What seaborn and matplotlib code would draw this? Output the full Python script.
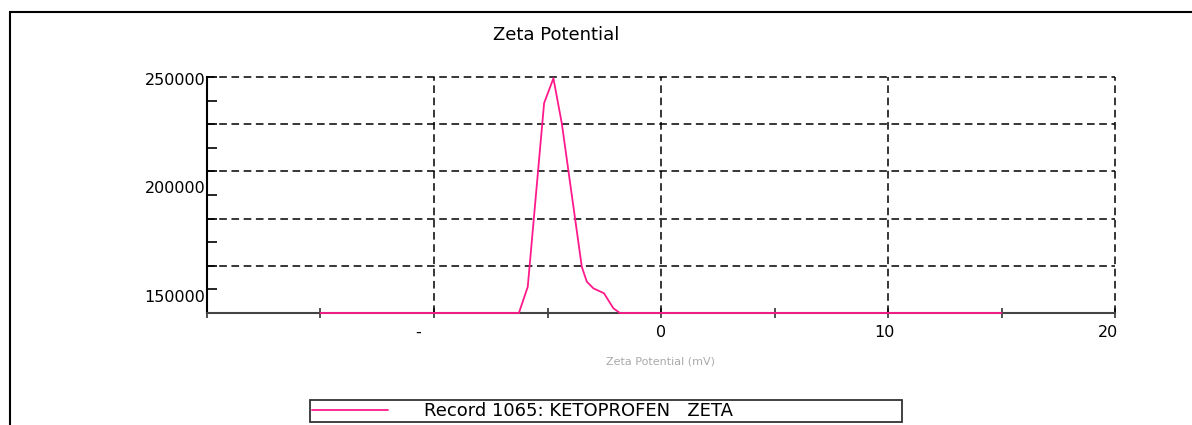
import numpy as np
import pandas as pd
import matplotlib
matplotlib.use('Agg')
import matplotlib.pyplot as plt
import seaborn as sns
from matplotlib.patches import Rectangle
from matplotlib.transforms import ScaledTranslation

# values
zeta_mv = [-15.0, -6.26, -5.87, -5.15, -4.74, -4.37, -3.49, -3.27, -2.98, -2.51, -2.10, -1.81, 15.0]
counts = [142000, 142000, 154100, 238900, 250400, 229600, 163400, 156500, 153400, 151100, 144200, 142000, 142000]
series_name = 'Record 1065: KETOPROFEN   ZETA'
x_ticks = [-10, 0, 10, 20]
x_ticklabels = ['-', '0', '10', '20']
y_ticks = [150000, 200000, 250000]
y_ticklabels = ['150000', '200000', '250000']

sns.set_style('white')
plt.rcParams['font.family'] = ['DejaVu Sans']
plt.rcParams['text.color'] = 'black'
plt.rcParams['xtick.color'] = 'black'
plt.rcParams['ytick.color'] = 'black'

df = pd.DataFrame({'zeta': zeta_mv, 'counts': counts})

fig = plt.figure(figsize=(11.92, 4.25), dpi=100)
ax = fig.add_axes([207/1192, 1-313/425, (1115-207)/1192, (313-77)/425])

pink = '#ff1a8c'
sns.lineplot(data=df, x='zeta', y='counts', ax=ax, color=pink, lw=1.3,
             label=series_name, clip_on=False, zorder=5)

xlim = (-20, 20)
ylim = (142000, 251000)
ax.set_xlim(xlim)
ax.set_ylim(ylim)

# dashed grid: verticals at labelled ticks, horizontals at 5 equal steps
dash = (0, (5, 3))
for xv in x_ticks:
    ax.axvline(xv, color='black', lw=1.1, ls=dash, zorder=1, clip_on=False)
for yv in np.linspace(ylim[0], ylim[1], 6)[1:]:
    ax.axhline(yv, color='black', lw=1.1, ls=dash, zorder=1, clip_on=False)

for s in ['top', 'right']:
    ax.spines[s].set_visible(False)
ax.spines['left'].set_color('black')
ax.spines['left'].set_linewidth(1.5)
ax.spines['bottom'].set_color('#444444')
ax.spines['bottom'].set_linewidth(1.5)

ax.set_xticks(x_ticks)
ax.set_xticklabels(x_ticklabels)
ax.set_xticks(np.arange(-20, 21, 5), minor=True)
ax.tick_params(axis='x', which='both', bottom=True, direction='inout', length=7, width=1.2,
               color='#333333', labelsize=11.5, pad=5, labelcolor='black')

ax.set_yticks(y_ticks)
ax.set_yticklabels(y_ticklabels)
ax.set_yticks(np.linspace(ylim[0], ylim[1], 11), minor=True)
ax.tick_params(axis='y', which='major', left=True, length=0, labelsize=11.5, pad=1,
               labelcolor='black')
ax.tick_params(axis='y', which='minor', left=True, direction='in', length=7, width=1.2,
               color='black')

# tick labels sit a little left of their ticks in the reference
shifts = [-16, 0, -4, -7]
for lab, dx in zip(ax.get_xticklabels(), shifts):
    lab.set_transform(lab.get_transform() + ScaledTranslation(dx/100, 0, fig.dpi_scale_trans))

ax.set_xlabel('Zeta Potential (mV)', fontsize=8, color='#aaaaaa', labelpad=12)
ax.set_ylabel('')
fig.text(556/1192, 1-35/425, 'Zeta Potential', ha='center', va='center', fontsize=13,
         color='black')

# legend box below the plot
ax.get_legend().remove()
leg = fig.legend(*ax.get_legend_handles_labels(), loc='lower left',
                 bbox_to_anchor=(310/1192, 1-422/425, 592/1192, 22/425),
                 mode='expand', fontsize=13, frameon=True, fancybox=False,
                 edgecolor='black', borderpad=0.1, handlelength=4.2,
                 handletextpad=2.0, borderaxespad=0, labelcolor='black')
leg.get_frame().set_linewidth(1.3)
leg.get_frame().set_boxstyle('square', pad=0)

# outer frame of the window
fig.add_artist(Rectangle((10/1192, -0.2), 1.2, 1.2 - 12/425, transform=fig.transFigure,
                         fill=False, edgecolor='black', lw=1.5, clip_on=False))

fig.savefig('out.png', dpi=100)
